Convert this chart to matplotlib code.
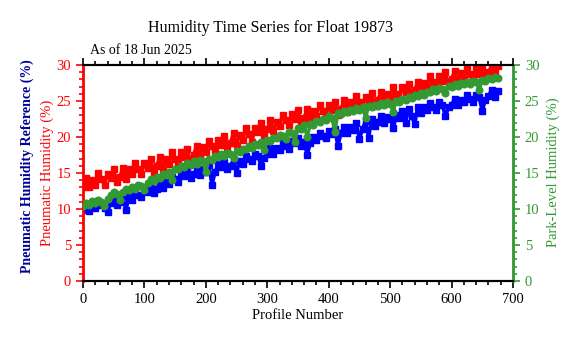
import numpy as np
import matplotlib
matplotlib.use('Agg')
import matplotlib.pyplot as plt
from matplotlib.ticker import MultipleLocator

plt.rcParams['font.family'] = ['Liberation Serif', 'DejaVu Serif']

# profile numbers (every 5th profile)
profiles = list(range(0, 680, 5))

pneumatic = [13.1, 14.3, 13.0, 14.0, 13.4, 15.0, 14.1, 13.4, 14.9, 14.3, 15.5, 13.7,
             14.5, 15.7, 14.1, 15.5, 14.8, 16.4, 15.5, 14.8, 16.4, 15.7, 17.0, 15.1,
             16.0, 17.2, 15.6, 17.0, 16.3, 17.9, 17.0, 16.4, 17.9, 17.2, 18.4, 16.3,
             17.5, 18.8, 17.2, 18.6, 17.9, 19.5, 18.7, 18.0, 19.6, 18.9, 20.2, 18.4,
             19.2, 20.5, 18.9, 20.3, 19.6, 21.3, 20.4, 19.3, 21.3, 20.7, 22.0, 20.2,
             21.1, 22.3, 20.8, 22.1, 21.5, 23.1, 22.3, 21.6, 23.2, 22.5, 23.7, 21.9,
             22.7, 23.9, 22.3, 23.6, 22.9, 24.5, 23.6, 22.9, 24.4, 23.7, 24.9, 23.1,
             23.9, 25.1, 23.5, 24.8, 24.1, 25.7, 24.8, 24.1, 25.6, 24.9, 26.1, 24.3,
             25.1, 26.3, 24.7, 26.0, 25.3, 26.9, 26.0, 25.3, 26.9, 26.2, 27.4, 25.7,
             26.5, 27.7, 26.2, 27.5, 26.8, 28.5, 27.6, 26.9, 28.5, 27.8, 29.0, 27.3,
             28.0, 29.2, 27.6, 28.9, 28.1, 29.5, 28.8, 28.1, 29.6, 28.8, 29.7, 28.2,
             29.0, 29.8, 28.9, 29.9]

reference = [9.8, 10.6, 9.7, 10.5, 10.1, 11.1, 10.6, 10.2, 9.6, 10.8, 11.5, 10.5,
             11.0, 11.8, 9.9, 11.7, 11.3, 12.3, 11.9, 11.6, 12.7, 12.4, 13.1, 12.2,
             12.8, 13.7, 12.9, 13.8, 13.5, 14.5, 14.1, 13.8, 14.9, 14.6, 15.3, 14.3,
             14.8, 15.6, 14.7, 15.5, 15.1, 16.1, 13.3, 15.2, 16.2, 15.8, 16.5, 15.5,
             16.0, 16.8, 15.0, 16.7, 16.3, 17.4, 16.9, 16.6, 17.6, 17.3, 16.0, 17.1,
             17.6, 18.5, 17.6, 18.5, 18.2, 19.2, 18.8, 18.4, 19.5, 19.1, 19.8, 18.8,
             19.3, 17.5, 19.2, 20.0, 19.6, 20.6, 20.2, 19.8, 20.8, 20.4, 21.1, 18.7,
             20.6, 21.4, 20.6, 21.4, 21.0, 22.0, 19.7, 21.1, 22.2, 19.9, 22.5, 21.5,
             22.1, 22.9, 22.0, 22.8, 22.5, 21.2, 23.0, 22.6, 23.6, 21.9, 23.9, 22.9,
             21.8, 24.2, 23.3, 24.1, 23.7, 24.7, 24.2, 23.8, 24.8, 24.4, 22.9, 24.1,
             24.5, 25.3, 24.4, 25.2, 24.8, 25.8, 25.3, 24.9, 25.9, 25.5, 23.6, 25.2,
             25.7, 26.5, 25.6, 26.4]

park_level = [10.4, 10.8, 10.6, 11.1, 10.9, 11.3, 11.0, 10.4, 11.4, 11.9, 12.3, 12.1, 11.3, 12.4, 12.8, 12.6, 13.0, 12.8,
              13.3, 13.2, 12.6, 13.6, 14.1, 13.9, 14.5, 14.3, 14.9, 14.7, 15.2, 14.0, 15.6, 15.5, 16.0, 15.9,
              16.4, 16.1, 16.6, 16.3, 16.8, 16.6, 15.1, 17.0, 16.8, 17.4, 17.2, 17.6, 17.4, 17.8, 17.6, 17.1, 18.1, 17.9,
              18.4, 18.3, 18.7, 18.5, 19.0, 18.9, 19.3, 18.2, 19.6, 19.5, 19.9, 19.8, 20.3, 20.1, 19.7, 20.7, 20.6,
              19.3, 21.2, 21.1, 21.6, 20.0, 21.8, 21.7, 22.2, 22.1, 22.5, 22.4, 22.9, 22.7, 20.7, 23.3, 23.2, 23.6,
              23.5, 23.8, 23.6, 24.0, 23.8, 24.2, 22.6, 24.3, 24.1, 24.5, 24.3, 24.7, 24.4, 24.8, 24.6, 23.5, 25.0,
              24.9, 25.3, 25.2, 25.6, 25.4, 25.8, 25.7, 26.1, 25.9, 26.3, 26.2, 26.6, 26.4, 26.8, 26.7, 26.1, 27.1,
              26.9, 27.3, 27.1, 27.5, 27.3, 27.6, 27.4, 27.8, 27.6, 26.5, 27.9, 27.8, 28.2, 28.0, 28.3, 28.2]

red = '#ff0000'
blue = '#0000ff'
green = '#339933'

fig = plt.figure(figsize=(5.77, 3.38), dpi=100)
ax = fig.add_axes([83/577, 57/338, 430/577, 216/338])

ax.plot(profiles, reference, '-s', color=blue, ms=4, lw=2.6, mec=blue)
ax.plot(profiles, pneumatic, '-s', color=red, ms=4, lw=2.6, mec=red)

ax2 = ax.twinx()
ax2.plot(profiles, park_level, '-o', color=green, ms=4.8, lw=2.4, mec=green)

ax.set_xlim(0, 700)
ax.set_ylim(0, 30)
ax2.set_ylim(0, 30)
ax.xaxis.set_major_locator(MultipleLocator(100))
ax.xaxis.set_minor_locator(MultipleLocator(20))
for a in (ax, ax2):
    a.yaxis.set_major_locator(MultipleLocator(5))
    a.yaxis.set_minor_locator(MultipleLocator(1))

ax.tick_params(axis='x', which='both', direction='out', top=True, labelsize=10.5, width=1.2, colors='black')
ax.tick_params(axis='x', which='major', length=5)
ax.tick_params(axis='x', which='minor', length=3)
ax.tick_params(axis='y', which='both', direction='out', colors=red, width=1.2, labelsize=10.5)
ax.tick_params(axis='y', which='major', length=5)
ax.tick_params(axis='y', which='minor', length=3)
ax2.tick_params(axis='y', which='both', direction='out', colors=green, width=1.2, labelsize=10.5)
ax2.tick_params(axis='y', which='major', length=5)
ax2.tick_params(axis='y', which='minor', length=3)

ax.spines['left'].set_color(red)
ax.spines['left'].set_linewidth(2)
ax2.spines['left'].set_visible(False)
ax2.spines['right'].set_color(green)
ax2.spines['right'].set_linewidth(2)
for s in ('top', 'bottom'):
    ax.spines[s].set_linewidth(1.5)
    ax2.spines[s].set_linewidth(1.5)

ax.set_xlabel('Profile Number', fontsize=10.5, labelpad=2)

fig.text(270/577, 1 - 28/338, 'Humidity Time Series for Float 19873', ha='center', va='center', fontsize=11.5)
fig.text(90/577, 1 - 50/338, 'As of 18 Jun 2025', ha='left', va='center', fontsize=10)
fig.text(27/577, 1 - 166/338, 'Pneumatic Humidity Reference (%)', rotation=90, ha='center', va='center',
         fontsize=10, color='#000099', fontweight='bold')
fig.text(47/577, 1 - 173/338, 'Pneumatic Humidity (%)', rotation=90, ha='center', va='center',
         fontsize=10.5, color=red)
fig.text(553/577, 1 - 172/338, 'Park-Level Humidity (%)', rotation=90, ha='center', va='center',
         fontsize=10.5, color=green)

fig.savefig('out.png', dpi=100)
